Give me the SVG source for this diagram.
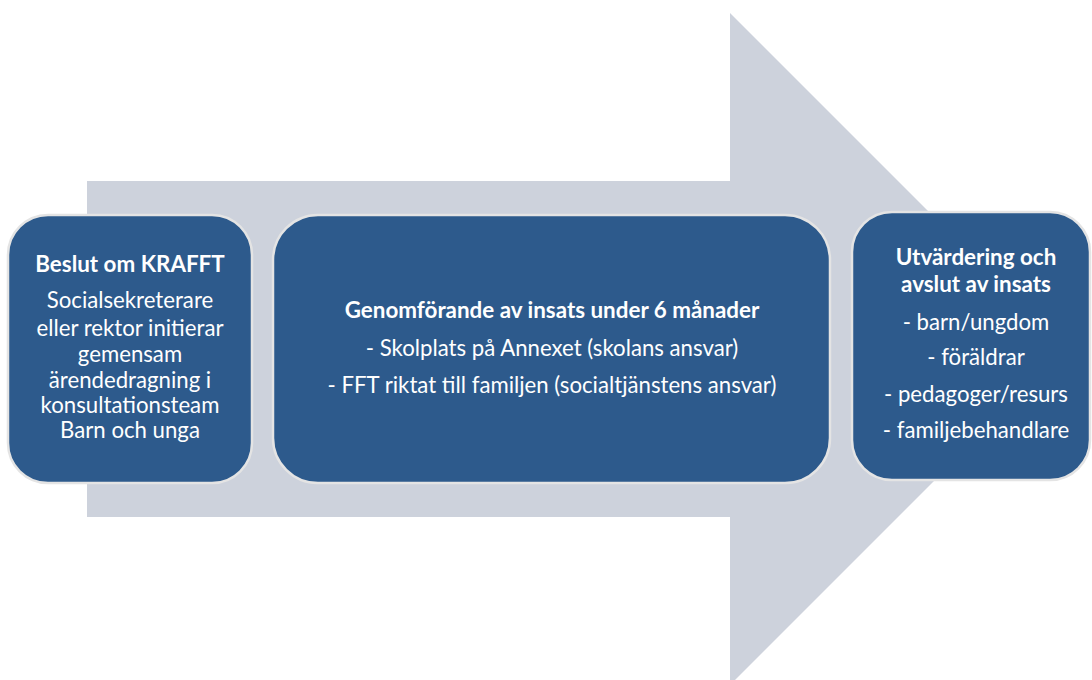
<svg xmlns="http://www.w3.org/2000/svg" width="1092" height="680" viewBox="0 0 1092 680">
<style>
.box{fill:#2d5a8c;stroke:#e4e4e4;stroke-width:2.5}
.t{font-family:Lato,"Liberation Sans",sans-serif;font-size:22.2px;fill:#ffffff;text-anchor:middle}
.b{font-weight:bold;font-size:22.4px}
</style>
<rect width="1092" height="680" fill="#ffffff"/>
<g id="arrow">
<polygon points="87,181 730,181 730,13 1066,349 730,685 730,517 87,517" fill="#cdd2dc"/>
</g>
<g id="node1">
<rect class="box" x="8" y="215" width="244" height="268" rx="40"/>
<text class="t b" x="130" y="272">Beslut om KRAFFT</text>
<text class="t" x="130" y="308">Socialsekreterare</text>
<text class="t" x="130" y="336">eller rektor initierar</text>
<text class="t" x="130" y="362">gemensam</text>
<text class="t" x="130" y="388">ärendedragning i</text>
<text class="t" x="130" y="413">konsultationsteam</text>
<text class="t" x="130" y="438">Barn och unga</text>
</g>
<g id="node2">
<rect class="box" x="273" y="215" width="557" height="268" rx="45"/>
<text class="t b" x="552" y="318">Genomförande av insats under 6 månader</text>
<text class="t" x="552" y="356">- Skolplats på Annexet (skolans ansvar)</text>
<text class="t" x="552" y="393">- FFT riktat till familjen (socialtjänstens ansvar)</text>
</g>
<g id="node3">
<rect class="box" x="852" y="212" width="238" height="268" rx="40"/>
<text class="t b" x="976" y="265">Utvärdering och</text>
<text class="t b" x="976" y="292">avslut av insats</text>
<text class="t" x="976" y="330">- barn/ungdom</text>
<text class="t" x="976" y="365">- föräldrar</text>
<text class="t" x="976" y="402">- pedagoger/resurs</text>
<text class="t" x="976" y="438">- familjebehandlare</text>
</g>
<g id="connectors"></g>
</svg>
